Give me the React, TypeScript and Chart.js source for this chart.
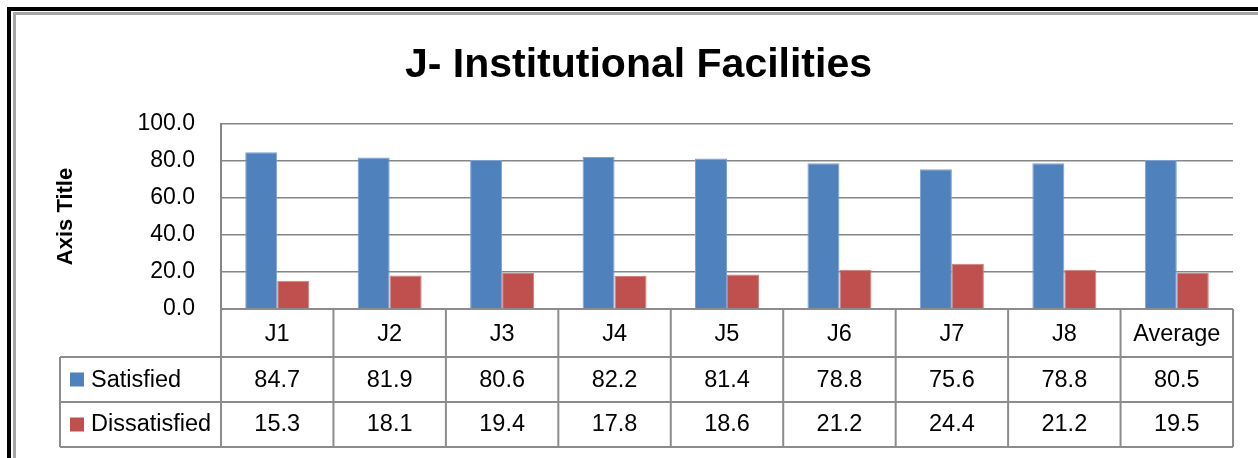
import React, { useEffect, useRef } from "react";
import { Chart, registerables } from "chart.js";

Chart.register(...registerables);

const categories = ["J1", "J2", "J3", "J4", "J5", "J6", "J7", "J8", "Average"];
const satisfied = [84.7, 81.9, 80.6, 82.2, 81.4, 78.8, 75.6, 78.8, 80.5];
const dissatisfied = [15.3, 18.1, 19.4, 17.8, 18.6, 21.2, 24.4, 21.2, 19.5];
const seriesNames = ["Satisfied", "Dissatisfied"];
const seriesColors = ["#4F81BD", "#C0504D"];
const chartTitle = "J- Institutional Facilities";
const yAxisTitle = "Axis Title";

const FONT = "'Liberation Sans', Arial, sans-serif";

const framePlugin = {
  id: "frame",
  beforeDraw(chart: any) {
    const ctx = chart.ctx;
    ctx.save();
    ctx.fillStyle = "#ffffff";
    ctx.fillRect(0, 0, chart.width, chart.height);
    // black outer frame (left + top)
    ctx.fillStyle = "#000000";
    ctx.fillRect(7, 7, 4, chart.height - 7);
    ctx.fillRect(7, 7, chart.width - 7, 4);
    // grey inner frame
    ctx.fillStyle = "#a6a6a6";
    ctx.fillRect(13, 12, 3, chart.height - 12);
    ctx.fillRect(13, 12, chart.width - 13, 3);
    // title
    ctx.fillStyle = "#000000";
    ctx.font = `bold 41px ${FONT}`;
    ctx.textAlign = "center";
    ctx.textBaseline = "alphabetic";
    ctx.fillText(chartTitle, 638.5, 77);
    ctx.restore();
  },
};

const tablePlugin = {
  id: "dataTable",
  afterDraw(chart: any) {
    const ctx = chart.ctx;
    const xs = chart.scales.x;
    const area = chart.chartArea;
    const left = area.left;
    const right = area.right;
    const n = categories.length;
    const colW = (right - left) / n;
    const y0 = area.bottom;
    const y1 = y0 + 48;
    const y2 = y1 + 45;
    const y3 = y2 + 45;
    const legendLeft = 60;

    ctx.save();
    ctx.strokeStyle = "#8c8c8c";
    ctx.lineWidth = 2;
    ctx.beginPath();
    ctx.moveTo(left, y0);
    ctx.lineTo(right, y0);
    [y1, y2, y3].forEach((y) => {
      ctx.moveTo(legendLeft, y);
      ctx.lineTo(right, y);
    });
    for (let i = 0; i <= n; i++) {
      const x = left + i * colW;
      ctx.moveTo(x, y0);
      ctx.lineTo(x, y3);
    }
    ctx.moveTo(legendLeft, y1);
    ctx.lineTo(legendLeft, y3);
    ctx.stroke();

    ctx.fillStyle = "#000000";
    ctx.font = `23.5px ${FONT}`;
    ctx.textAlign = "center";
    ctx.textBaseline = "middle";
    categories.forEach((c, i) => {
      const cx = xs.getPixelForValue(i);
      ctx.fillText(c, cx, (y0 + y1) / 2 + 2);
      ctx.fillText(satisfied[i].toFixed(1), cx, (y1 + y2) / 2 + 1);
      ctx.fillText(dissatisfied[i].toFixed(1), cx, (y2 + y3) / 2);
    });

    const rows = [
      [y1, y2],
      [y2, y3],
    ];
    seriesNames.forEach((name, k) => {
      const cy = (rows[k][0] + rows[k][1]) / 2;
      ctx.fillStyle = seriesColors[k];
      ctx.fillRect(70, cy - 7, 14, 14);
      ctx.fillStyle = "#000000";
      ctx.textAlign = "left";
      ctx.fillText(name, 91, cy + (k === 0 ? 1 : 0));
    });
    ctx.restore();
  },
};

export default function App() {
  const canvasRef = useRef<HTMLCanvasElement | null>(null);

  useEffect(() => {
    const canvas = canvasRef.current;
    if (!canvas) return;
    const chart = new Chart(canvas, {
      type: "bar",
      data: {
        labels: categories,
        datasets: [
          {
            label: seriesNames[0],
            data: satisfied,
            backgroundColor: seriesColors[0],
            borderColor: "#7DA2D2",
            borderWidth: 1,
            categoryPercentage: 0.569,
            barPercentage: 1.0,
          },
          {
            label: seriesNames[1],
            data: dissatisfied,
            backgroundColor: seriesColors[1],
            borderColor: "#D07F7D",
            borderWidth: 1,
            categoryPercentage: 0.569,
            barPercentage: 1.0,
          },
        ],
      },
      options: {
        responsive: false,
        animation: false,
        devicePixelRatio: 1,
        layout: {
          padding: { left: 0, right: 25, top: 124, bottom: 149 },
        },
        plugins: {
          legend: { display: false },
          tooltip: { enabled: false },
          title: { display: false },
        },
        scales: {
          x: {
            display: false,
            offset: true,
          },
          y: {
            min: 0,
            max: 100,
            ticks: {
              stepSize: 20,
              color: "#000000",
              padding: 26,
              font: { family: FONT, size: 23 },
              callback: (v: any) => Number(v).toFixed(1),
            },
            grid: {
              color: "#868686",
              lineWidth: 1.5,
              drawTicks: false,
            },
            border: { display: true, color: "#868686", width: 2 },
            title: {
              display: true,
              text: yAxisTitle,
              color: "#000000",
              font: { family: FONT, size: 22, weight: "bold", lineHeight: 1.2 },
              padding: { top: 53, bottom: 0 },
            },
            afterFit: (scale: any) => {
              scale.width = 221;
            },
          },
        },
      },
      plugins: [framePlugin, tablePlugin],
    });
    return () => chart.destroy();
  }, []);

  return (
    <div style={{ position: "fixed", left: 0, top: 0, width: 1258, height: 458, background: "#fff" }}>
      <canvas ref={canvasRef} width={1258} height={458} style={{ display: "block", width: 1258, height: 458 }} />
    </div>
  );
}
